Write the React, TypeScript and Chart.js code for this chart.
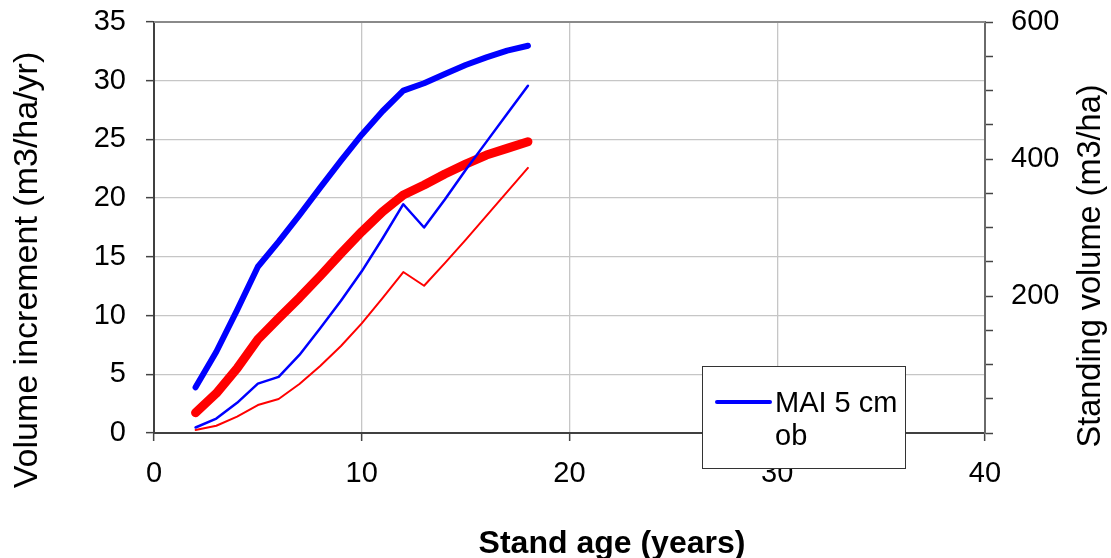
import React, { useEffect, useRef } from "react";
import { Chart, registerables } from "chart.js";

Chart.register(...registerables);

// Data
const AGES = [2, 3, 4, 5, 6, 7, 8, 9, 10, 11, 12, 13, 14, 15, 16, 17, 18];
// Mean annual increment (left axis, m3/ha/yr)
const MAI_5 = [3.89, 6.92, 10.47, 14.16, 16.3, 18.56, 20.9, 23.2, 25.4, 27.4, 29.15, 29.78, 30.57, 31.34, 31.99, 32.56, 32.98];
const MAI_10 = [1.73, 3.38, 5.5, 7.98, 9.77, 11.52, 13.37, 15.3, 17.14, 18.85, 20.27, 21.12, 22.06, 22.9, 23.67, 24.24, 24.81];
// Standing volume (right axis, m3/ha)
const VOL_5 = [8, 21, 44, 72, 82, 114, 153, 193, 236, 284, 334, 300, 341, 384, 425, 466, 507];
const VOL_10 = [4.5, 10.6, 23.8, 40.8, 49.7, 71.5, 97.9, 127, 160, 197, 235, 215, 248, 282, 317, 352, 387];

const X_TITLE = "Stand age (years)";
const Y_TITLE = "Volume increment (m3/ha/yr)";
const Y2_TITLE = "Standing volume (m3/ha)";
const LEGEND_LINES = ["MAI 5 cm", "ob"];

const FONT = "'Liberation Sans', Arial, sans-serif";

const toPoints = (ys: number[]) => AGES.map((a, i) => ({ x: a, y: ys[i] }));

const decorPlugin = {
  id: "decor",
  afterDraw(chart: any) {
    const { ctx, chartArea } = chart;
    ctx.save();
    // top border of plot area
    ctx.strokeStyle = "#8a8a8a";
    ctx.lineWidth = 2;
    ctx.beginPath();
    ctx.moveTo(chartArea.left, chartArea.top);
    ctx.lineTo(chartArea.right, chartArea.top);
    ctx.stroke();

    // axis titles
    ctx.fillStyle = "#000";
    ctx.textAlign = "center";
    ctx.textBaseline = "middle";
    ctx.save();
    ctx.font = `34px ${FONT}`;
    ctx.translate(28, 270);
    ctx.rotate(-Math.PI / 2);
    ctx.fillText(Y_TITLE, 0, 0);
    ctx.restore();
    ctx.save();
    ctx.font = `32.5px ${FONT}`;
    ctx.translate(1091, 266);
    ctx.rotate(-Math.PI / 2);
    ctx.fillText(Y2_TITLE, 0, 0);
    ctx.restore();
    ctx.font = `bold 32px ${FONT}`;
    ctx.textBaseline = "alphabetic";
    ctx.fillText(X_TITLE, 612, 553);

    // legend box
    const ds = chart.data.datasets[0];
    const bx = 702, by = 366, bw = 203, bh = 102;
    ctx.fillStyle = "#fff";
    ctx.fillRect(bx, by, bw, bh);
    ctx.strokeStyle = "#333";
    ctx.lineWidth = 1;
    ctx.strokeRect(bx + 0.5, by + 0.5, bw, bh);
    ctx.strokeStyle = ds.borderColor;
    ctx.lineWidth = 4;
    ctx.lineCap = "round";
    ctx.beginPath();
    ctx.moveTo(717, 402);
    ctx.lineTo(770, 402);
    ctx.stroke();
    ctx.fillStyle = "#000";
    ctx.font = `29px ${FONT}`;
    ctx.textAlign = "left";
    ctx.textBaseline = "alphabetic";
    ctx.fillText(LEGEND_LINES[0], 775, 412);
    ctx.fillText(LEGEND_LINES[1], 775, 445);
    ctx.restore();
  },
};

export default function App() {
  const ref = useRef<HTMLCanvasElement>(null);
  useEffect(() => {
    if (!ref.current) return;
    const chart = new Chart(ref.current, {
      type: "line",
      data: {
        datasets: [
          {
            label: "MAI 5 cm ob",
            data: toPoints(MAI_5),
            borderColor: "#0000ff",
            borderWidth: 6,
            yAxisID: "y",
            order: 1,
          },
          {
            label: "MAI 10 cm ob",
            data: toPoints(MAI_10),
            borderColor: "#ff0000",
            borderWidth: 9,
            yAxisID: "y",
            order: 2,
          },
          {
            label: "Volume 5 cm ob",
            data: toPoints(VOL_5),
            borderColor: "#0000ff",
            borderWidth: 2.5,
            yAxisID: "y2",
            order: 0,
          },
          {
            label: "Volume 10 cm ob",
            data: toPoints(VOL_10),
            borderColor: "#ff0000",
            borderWidth: 2,
            yAxisID: "y2",
            order: 3,
          },
        ],
      },
      options: {
        animation: false,
        responsive: true,
        maintainAspectRatio: false,
        layout: { padding: { top: 22, left: 0, right: 0, bottom: 0 } },
        elements: {
          point: { radius: 0, hoverRadius: 0 },
          line: { tension: 0, borderCapStyle: "round", borderJoinStyle: "round", fill: false },
        },
        plugins: {
          legend: { display: false },
          tooltip: { enabled: false },
          title: { display: false },
        },
        scales: {
          x: {
            type: "linear",
            position: "bottom",
            min: 0,
            max: 40,
            ticks: { stepSize: 10, color: "#000", font: { size: 29, family: FONT }, padding: 16, maxRotation: 0 },
            grid: { color: "#c6c6c6", lineWidth: 1.3, tickLength: 8, tickColor: "#444", tickWidth: 1.5 },
            border: { color: "#404040", width: 2 },
            afterFit: (s: any) => { s.height = 125; s.paddingLeft = 0; s.paddingRight = 0; },
          },
          y: {
            type: "linear",
            position: "left",
            min: 0,
            max: 35,
            ticks: { stepSize: 5, color: "#000", font: { size: 29, family: FONT }, padding: 20 },
            grid: { color: "#c6c6c6", lineWidth: 1.3, tickLength: 8, tickColor: "#444", tickWidth: 1.5 },
            border: { color: "#404040", width: 2 },
            afterFit: (s: any) => { s.width = 154; s.paddingTop = 0; s.paddingBottom = 0; },
          },
          y2: {
            type: "linear",
            position: "right",
            min: 0,
            max: 600,
            ticks: {
              stepSize: 50,
              color: "#000",
              font: { size: 29, family: FONT },
              padding: 18,
              autoSkip: false,
              callback: (v: any) => (v % 200 === 0 && v !== 0 ? String(v) : ""),
            },
            grid: { drawOnChartArea: false, tickLength: 8, tickColor: "#444", tickWidth: 1.5 },
            border: { color: "#6a6a6a", width: 2 },
            afterFit: (s: any) => { s.width = 126; s.paddingTop = 0; s.paddingBottom = 0; },
          },
        },
      },
      plugins: [decorPlugin],
    });
    return () => chart.destroy();
  }, []);
  return (
    <div style={{ position: "fixed", left: 0, top: 0, width: 1111, height: 558, background: "#fff" }}>
      <canvas ref={ref} style={{ display: "block" }} />
    </div>
  );
}
